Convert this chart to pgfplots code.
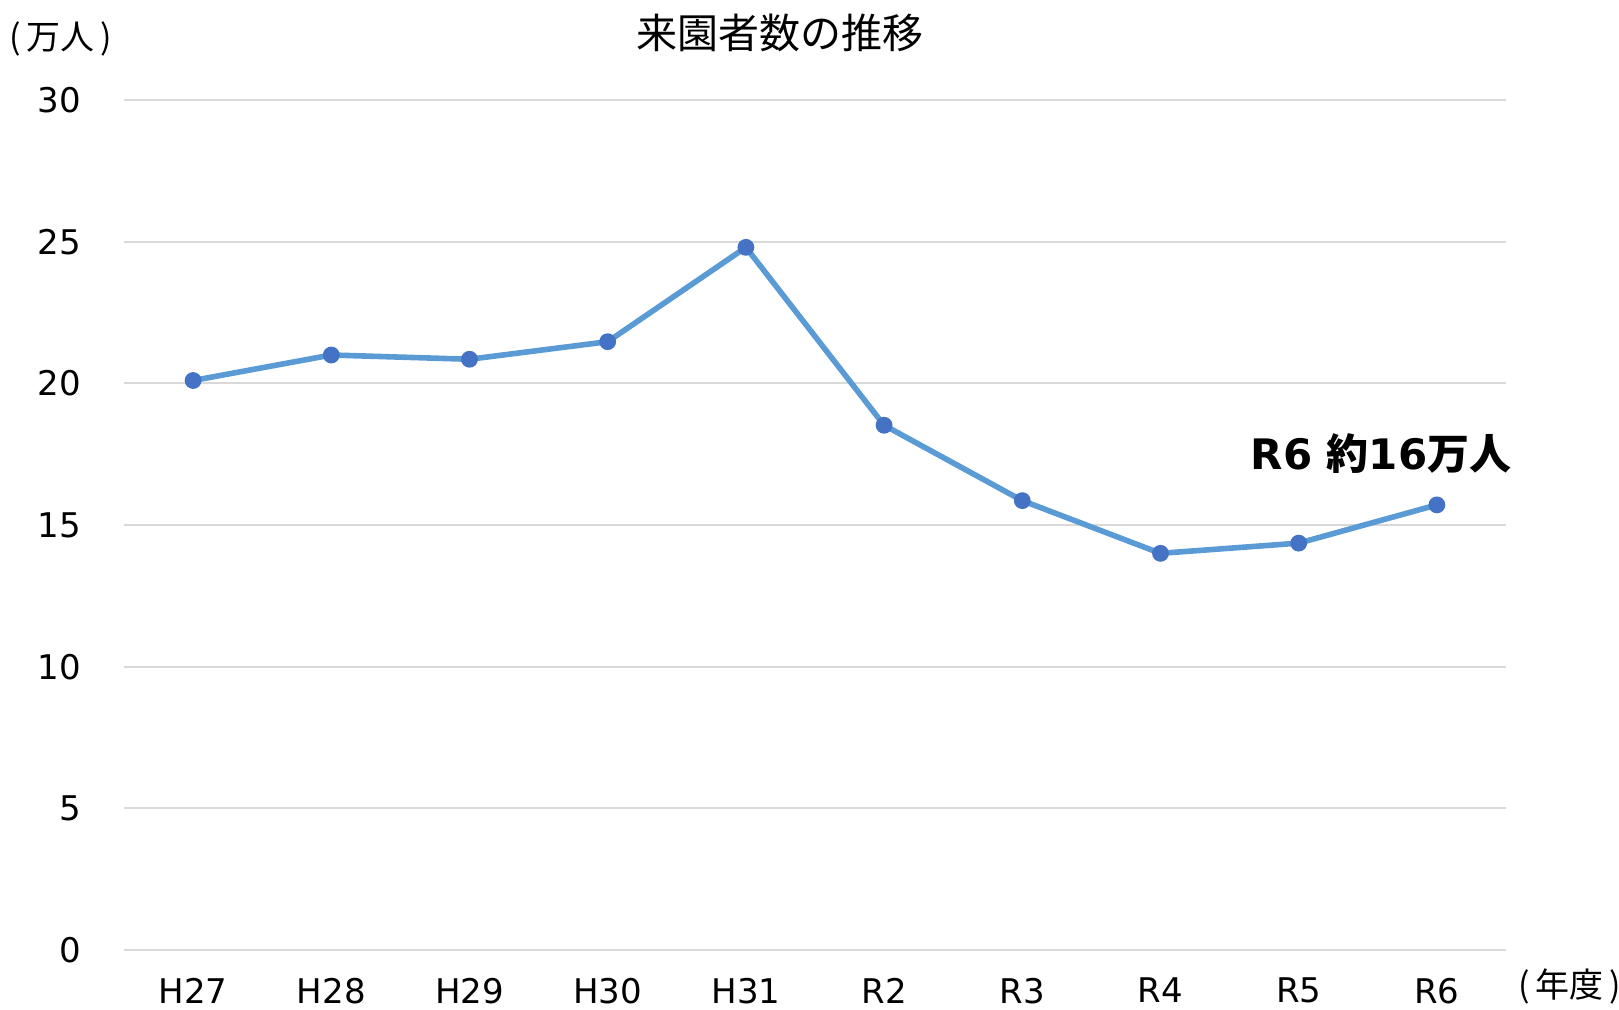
\documentclass[border=0pt]{standalone}
\usepackage{fontspec}
\usepackage{pgfplots}
\pgfplotsset{compat=1.18}
\setmainfont{DejaVu Sans}
\newfontfamily\cjk{Noto Sans CJK JP}
\definecolor{linec}{HTML}{5B9BD5}
\definecolor{markc}{HTML}{4472C4}
\definecolor{gridc}{HTML}{D9D9D9}
\begin{document}
\begin{tikzpicture}
\useasboundingbox (-62pt,-29.5pt) rectangle (747.5pt,475pt);
\clip (-62pt,-29.5pt) rectangle (747.5pt,475pt);
\begin{axis}[
  scale only axis, width=691pt, height=425pt,
  xmin=-0.5, xmax=9.5, ymin=0, ymax=30,
  ytick={0,5,10,15,20,25,30},
  xtick={0,1,2,3,4,5,6,7,8,9},
  xticklabels={H27,H28,H29,H30,H31,R2,R3,R4,R5,R6},
  axis line style={draw=none},
  major tick length=0pt,
  ymajorgrids, grid style={gridc, line width=0.9pt},
  tick label style={font=\fontsize{17}{20}\selectfont, black},
  /pgf/number format/assume math mode=true,
  yticklabel style={xshift=-18pt},
  xticklabel style={yshift=-10.5pt},
  clip=false,
]
\addplot[color=linec, line width=2.8pt, mark=*, mark size=3.8pt,
  mark options={fill=markc, draw=markc, line width=0.8pt}] coordinates {
  (0,20.1) (1,21.0) (2,20.85) (3,21.47) (4,24.8) (5,18.52) (6,15.86) (7,14.0) (8,14.36) (9,15.71)
};
\end{axis}
\node at (328pt,458.5pt) {\cjk\fontsize{20.5}{24}\selectfont 来園者数の推移};
\node[inner sep=0pt] at (-31.5pt,455.5pt) {\cjk\fontsize{17}{20}\selectfont (\,万人\,)};
\node[inner sep=0pt] at (723pt,-18pt) {\cjk\fontsize{17}{20}\selectfont (\,年度\,)};
\node at (628.5pt,248pt) {\fontsize{21}{25}\selectfont\bfseries R6 {\cjk\bfseries 約}16{\cjk\bfseries 万人}};
\end{tikzpicture}
\end{document}
